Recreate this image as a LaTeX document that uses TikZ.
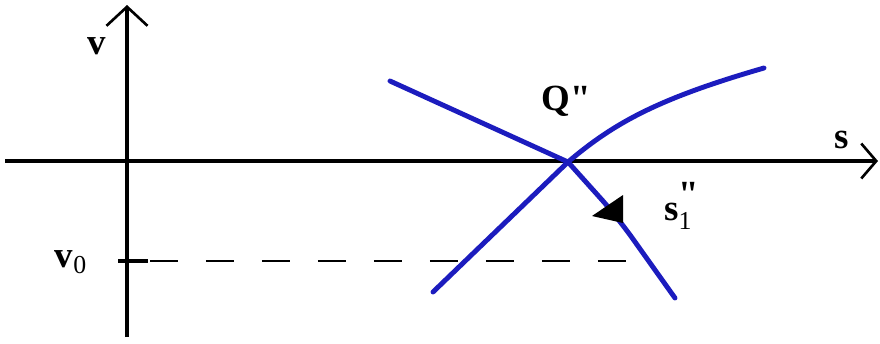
\documentclass[tikz,border=0pt]{standalone}
\usepackage{fontspec}
\setmainfont{Liberation Serif}[Ligatures=TeXOff]
\usetikzlibrary{arrows.meta}
\definecolor{sepblue}{RGB}{28,28,190}
\tikzset{>=latex}
\tikzset{font=\fontsize{21}{25}\selectfont\bfseries}

\begin{document}
\begin{tikzpicture}[x=0.02cm, y=-0.02cm,
    axis/.style={line width=2pt},
    vhead/.style={-{Straight Barb[length=0.38cm, width=0.82cm, line width=1.5pt]}},
    shead/.style={-{Straight Barb[length=0.3cm, width=0.7cm, line width=1.5pt]}},
    sepline/.style={sepblue, line width=2.8pt, line cap=round, line join=round},
    lbl/.style={inner sep=0pt}]
  \useasboundingbox (0,0) rectangle (880,343);
  % axes
  \coordinate (O) at (127,161);
  \coordinate (vtop) at (127,5);
  \coordinate (vbot) at (127,337);
  \coordinate (sleft) at (5,161);
  \coordinate (sright) at (878,161);
  \draw[axis, vhead] (vbot) -- (vtop);
  \draw[axis, shead] (sleft) -- (sright);
  \node[lbl] (vlab) at (97,46) {v};
  \node[lbl] (slab) at (842,140) {s};
  % level v_0
  \coordinate (tickL) at (118,261);
  \coordinate (tickR) at (148,261);
  \coordinate (dashR) at (645,261);
  \draw[line width=2.4pt] (tickL) -- (tickR);
  \draw[line width=1.3pt, dash pattern=on 0.56cm off 0.56cm] (tickR) ++(2,0) -- (dashR);
  \node[lbl] (v0lab) at (71,262) {v$_{\mathrm{0}}$};
  % separatrices through Q''
  \coordinate (Q) at (568,162);
  \coordinate (s1a) at (390,81);
  \coordinate (s1b) at (675,298);
  \coordinate (s2a) at (433,292);
  \coordinate (s2b) at (764,68);
  \draw[sepline] (s1a) -- (Q) -- (603,201) [rounded corners=14pt] -- (618,218) -- (s1b);
  \draw[sepline] (s2a) -- (Q);
  \draw[sepline] (Q) .. controls (615,122) and (660,98) .. (s2b);
  \fill (592,216) -- (623,195) -- (623,223) -- cycle;
  \node[lbl] (Qlab) at (566,101) {Q"};
  \node[lbl, anchor=west] (s1lab) at (664,206) {s$^{\textbf{"}}_{\mathrm{1}}$};
\end{tikzpicture}
\end{document}
